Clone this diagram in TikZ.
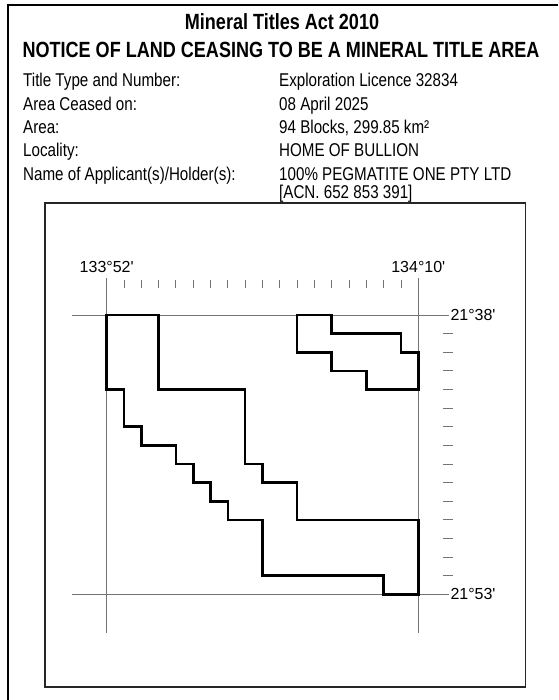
\documentclass[tikz,border=0pt]{standalone}
\usepackage{fontspec}
\setmainfont{Liberation Sans}
\newfontfamily\narrowfont{Liberation Sans}[FakeStretch=0.82]
\usetikzlibrary{positioning}
\tikzset{heading/.style={font=\narrowfont\bfseries\fontsize{22}{24}\selectfont,inner sep=0pt,anchor=base}}
\tikzset{field/.style={font=\narrowfont\fontsize{18.5}{21}\selectfont,inner sep=0pt,anchor=base west}}
\tikzset{coordlabel/.style={font=\fontsize{16}{18}\selectfont,inner sep=0pt}}
\tikzset{gridline/.style={draw=black!55,line width=0.9pt}}
\tikzset{tenement/.style={draw=black,line width=2.6pt,line join=miter}}
\tikzset{mapframe/.style={draw=black!85,line width=1.3pt}}

\begin{document}
\begin{tikzpicture}[x=1pt,y=-1pt]
\useasboundingbox (0,0) rectangle (558,700);
% notice border and map frame
\draw[line width=2.4pt] (8,700) -- (8,5) -- (558,5);
\draw[mapframe] (45,203) rectangle (525.5,687);

% heading
\node (act) [heading] at (282,30) {Mineral Titles Act 2010};
\node (notice) [heading] at (281,57.5) {NOTICE OF LAND CEASING TO BE A MINERAL TITLE AREA};

% particulars
\node (type) [field] at (23,87) {Title Type and Number:};
\node (typeval) [field] at (279,87) {Exploration Licence 32834};
\node (ceased) [field] at (23,110.3) {Area Ceased on:};
\node (ceasedval) [field] at (279,110.3) {08 April 2025};
\node (area) [field] at (23,133.6) {Area:};
\node (areaval) [field] at (279,133.6) {94 Blocks, 299.85 km²};
\node (locality) [field] at (23,157) {Locality:};
\node (localityval) [field] at (279,157) {HOME OF BULLION};
\node (holder) [field] at (23,180.3) {Name of Applicant(s)/Holder(s):};
\node (holderval) [field] at (279,180.3) {100\% PEGMATITE ONE PTY LTD};
\node (acn) [field] at (279,198.5) {[ACN. 652 853 391]};

% map, one unit = one minute
\begin{scope}[shift={(106.7,315)},x=17.31pt,y=-18.62pt]
	\draw[gridline] (0,-2) -- (0,17.1);
	\draw[gridline] (18,-2) -- (18,17.1);
	\draw[gridline] (-2,0) -- (19.8,0);
	\draw[gridline] (-2,15) -- (19.8,15);
	\foreach \m in {1,...,17}
		\draw[gridline] (\m,-1.88) -- (\m,-1.43);
	\foreach \m in {1,...,14}
		\draw[gridline] (19.4,\m) -- (20,\m);
	\node (west) [coordlabel,anchor=base] at (0,-2.28) {133°52\textquotesingle};
	\node (east) [coordlabel,anchor=base] at (18,-2.28) {134°10\textquotesingle};
	\node (north) [coordlabel,anchor=west] at (19.85,0) {21°38\textquotesingle};
	\node (south) [coordlabel,anchor=west] at (19.85,15) {21°53\textquotesingle};
	% ceased blocks
	\draw[tenement] (0,0) -- (3,0) -- (3,4) -- (8,4) -- (8,8) -- (9,8) -- (9,9) -- (11,9) -- (11,11) -- (18,11) -- (18,15) -- (16,15) -- (16,14) -- (9,14) -- (9,11) -- (7,11) -- (7,10) -- (6,10) -- (6,9) -- (5,9) -- (5,8) -- (4,8) -- (4,7) -- (2,7) -- (2,6) -- (1,6) -- (1,4) -- (0,4) -- cycle;
	\draw[tenement] (11,0) -- (13,0) -- (13,1) -- (17,1) -- (17,2) -- (18,2) -- (18,4) -- (15,4) -- (15,3) -- (13,3) -- (13,2) -- (11,2) -- cycle;
\end{scope}
\end{tikzpicture}
\end{document}
